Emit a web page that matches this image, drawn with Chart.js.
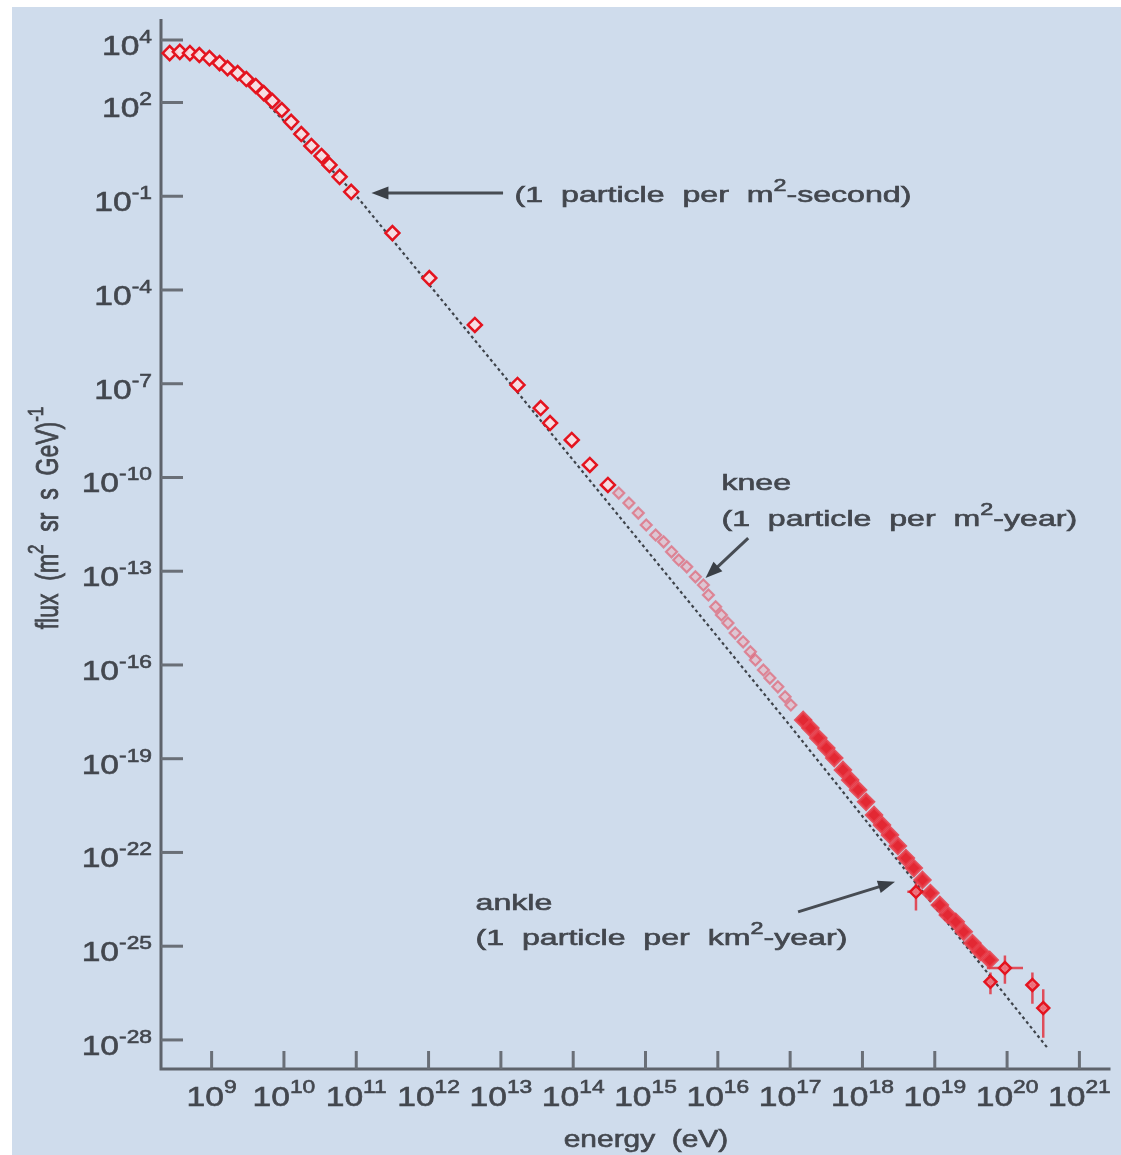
<!DOCTYPE html>
<html>
<head>
<meta charset="utf-8">
<title>Cosmic ray energy spectrum</title>
<script src="https://cdn.jsdelivr.net/npm/chart.js@4.4.0/dist/chart.umd.min.js"></script>
<style>
  html, body { margin: 0; padding: 0; background: #fff; }
  #wrap { width: 1121px; height: 1155px; position: relative; }
</style>
</head>
<body>
<div id="wrap"><canvas id="spectrum"></canvas></div>
<script>
// all values are log10 of the quantity
// energy in eV, flux in (m2 sr s GeV)^-1

// low energy (direct measurements), open diamonds
const lowEnergy = [8.42, 8.56, 8.70, 8.83, 8.97, 9.11, 9.22, 9.36, 9.48, 9.61, 9.72, 9.84, 9.97, 10.10, 10.24, 10.38, 10.52, 10.63, 10.77, 10.93];
const lowFlux   = [3.58, 3.62, 3.58, 3.52, 3.42, 3.26, 3.10, 2.94, 2.75, 2.53, 2.30, 2.05, 1.76, 1.38, 0.99, 0.61, 0.29, 0.00, -0.38, -0.86];

// sparse points between 10^11 and the knee
const midEnergy = [11.50, 12.01, 12.64, 13.23, 13.55, 13.68, 13.98, 14.23, 14.48];
const midFlux   = [-2.18, -3.62, -5.12, -7.04, -7.78, -8.26, -8.80, -9.60, -10.24];

// knee region, faint small markers
const kneeEnergy = [14.63, 14.77, 14.90, 15.01, 15.14, 15.25, 15.36, 15.46, 15.57, 15.69, 15.80, 15.87, 15.97, 16.05, 16.14, 16.24, 16.35, 16.45, 16.52, 16.63, 16.72, 16.83, 16.93, 17.01];
const kneeFlux   = [-10.50, -10.82, -11.14, -11.52, -11.84, -12.06, -12.38, -12.64, -12.86, -13.18, -13.44, -13.76, -14.14, -14.40, -14.66, -14.98, -15.26, -15.58, -15.84, -16.16, -16.42, -16.70, -17.02, -17.28];

// air shower data up to the ankle
const highEnergy = [17.18, 17.28, 17.39, 17.50, 17.61, 17.73, 17.83, 17.94, 18.05, 18.16, 18.27, 18.38, 18.49, 18.60, 18.71, 18.83, 18.94, 19.07, 19.18, 19.29, 19.40, 19.52, 19.63, 19.76];
const highFlux   = [-17.76, -18.02, -18.34, -18.66, -18.98, -19.36, -19.68, -20.00, -20.38, -20.80, -21.12, -21.44, -21.79, -22.18, -22.50, -22.88, -23.30, -23.68, -24.00, -24.22, -24.54, -24.90, -25.18, -25.44];

// highest energy points with error bars (decades)
const tailEnergy  = [18.74, 19.77, 19.97, 20.35, 20.50];
const tailFlux    = [-23.26, -26.14, -25.70, -26.24, -26.98];
const tailErrUp   = [0.35, 0.30, 0.40, 0.40, 0.60];
const tailErrDown = [0.60, 0.40, 0.50, 0.60, 0.95];
const tailErrE    = [0.12, 0.08, 0.25, 0.06, 0.06];

// dotted reference line
const fitEnergy = [9.80, 10.15, 10.97, 14.26, 16.97, 20.56];
const fitFlux   = [1.88, 1.06, -0.90, -10.18, -17.86, -28.26];

// axes
const xTicks = [9, 10, 11, 12, 13, 14, 15, 16, 17, 18, 19, 20, 21];
const yTicks = [4, 2, -1, -4, -7, -10, -13, -16, -19, -22, -25, -28];
const xRange = [8.30, 21.43];
const yRange = [-28.93, 4.80];

const FONT = '"Liberation Sans", Arial, sans-serif';
const INK = '#43474e';
const AXIS = '#5e636b';
const PANEL = '#cfdcec';
const RED = '#e4141f';

function toPoints(es, fs) {
    return es.map((e, i) => ({ x: Math.pow(10, e), y: Math.pow(10, fs[i]) }));
}

// text made of plain and superscript pieces, stretched sideways like the scan
function richText(c, parts, x, y, o) {
    const size = o.size, supSize = o.supSize || Math.round(size * 0.7), rise = o.rise || size * 0.45;
    let w = 0;
    parts.forEach(p => {
        c.font = (p.sup ? supSize : size) + 'px ' + FONT;
        p.w = c.measureText(p.t).width;
        w += p.w;
    });
    let cx = o.align === 'right' ? -w : o.align === 'center' ? -w / 2 : 0;
    c.save();
    c.translate(x, y);
    if (o.rot) c.rotate(o.rot);
    c.scale(o.sx || 1, o.sy || 1);
    c.fillStyle = o.color || INK;
    c.strokeStyle = o.color || INK;
    c.lineWidth = 0.6;
    c.textAlign = 'left';
    c.textBaseline = 'alphabetic';
    parts.forEach(p => {
        c.font = (p.sup ? supSize : size) + 'px ' + FONT;
        c.fillText(p.t, cx, p.sup ? -rise : 0);
        c.strokeText(p.t, cx, p.sup ? -rise : 0);
        cx += p.w;
    });
    c.restore();
}

function arrow(c, x1, y1, x2, y2) {
    const a = Math.atan2(y2 - y1, x2 - x1), L = 17, W = 6.5;
    c.save();
    c.strokeStyle = '#474c53';
    c.fillStyle = '#3a3f46';
    c.lineWidth = 3;
    c.beginPath();
    c.moveTo(x1, y1);
    c.lineTo(x2 - Math.cos(a) * L * 0.8, y2 - Math.sin(a) * L * 0.8);
    c.stroke();
    c.beginPath();
    c.moveTo(x2, y2);
    c.lineTo(x2 - L * Math.cos(a) + W * Math.sin(a), y2 - L * Math.sin(a) - W * Math.cos(a));
    c.lineTo(x2 - L * Math.cos(a) - W * Math.sin(a), y2 - L * Math.sin(a) + W * Math.cos(a));
    c.closePath();
    c.fill();
    c.restore();
}

const frame = {
    id: 'frame',
    beforeDraw(chart) {
        const c = chart.ctx;
        c.save();
        c.fillStyle = '#ffffff';
        c.fillRect(0, 0, chart.width, chart.height);
        c.fillStyle = PANEL;
        c.fillRect(12, 7, chart.width - 12, chart.height - 7);
        c.restore();
    },
    beforeDatasetsDraw(chart) {
        const c = chart.ctx, a = chart.chartArea;
        const xs = chart.scales.x, ys = chart.scales.y;
        c.save();
        // axis lines
        c.strokeStyle = AXIS;
        c.lineWidth = 3;
        c.beginPath();
        c.moveTo(a.left, a.top + 4);
        c.lineTo(a.left, a.bottom);
        c.lineTo(a.right, a.bottom);
        c.stroke();
        // inward ticks
        c.strokeStyle = '#6a6f77';
        yTicks.forEach(t => {
            const y = ys.getPixelForValue(Math.pow(10, t));
            c.beginPath(); c.moveTo(a.left, y); c.lineTo(a.left + 22, y); c.stroke();
        });
        xTicks.forEach(t => {
            const x = xs.getPixelForValue(Math.pow(10, t));
            c.beginPath(); c.moveTo(x, a.bottom); c.lineTo(x, a.bottom - 18); c.stroke();
        });
        c.restore();

        // tick labels
        yTicks.forEach(t => {
            const y = ys.getPixelForValue(Math.pow(10, t));
            richText(c, [{ t: '10' }, { t: String(t), sup: true }], 152, y + 15,
                { size: 28, supSize: 19, rise: 12, sx: 1.2, align: 'right' });
        });
        xTicks.forEach(t => {
            const x = xs.getPixelForValue(Math.pow(10, t));
            richText(c, [{ t: '10' }, { t: String(t), sup: true }], x, a.bottom + 37,
                { size: 28, supSize: 19, rise: 13, sx: 1.2, align: 'center' });
        });

        // axis titles
        richText(c, [{ t: 'energy  (eV)' }], 646, 1147, { size: 23, sx: 1.3, align: 'center' });
        richText(c, [{ t: 'flux  (m' }, { t: '2', sup: true }, { t: '  sr  s  GeV)' }, { t: '-1', sup: true }],
            58, 518, { size: 23, supSize: 17, rise: 11, rot: -Math.PI / 2, sy: 1.35, align: 'center' });

        // error bars under the markers
        c.save();
        c.strokeStyle = 'rgba(228, 30, 42, 0.75)';
        c.lineWidth = 2.5;
        tailEnergy.forEach((e, i) => {
            const f = tailFlux[i];
            const x = xs.getPixelForValue(Math.pow(10, e)), y = ys.getPixelForValue(Math.pow(10, f));
            c.beginPath();
            c.moveTo(x, ys.getPixelForValue(Math.pow(10, f + tailErrUp[i])));
            c.lineTo(x, ys.getPixelForValue(Math.pow(10, f - tailErrDown[i])));
            c.moveTo(xs.getPixelForValue(Math.pow(10, e - tailErrE[i])), y);
            c.lineTo(xs.getPixelForValue(Math.pow(10, e + tailErrE[i])), y);
            c.stroke();
        });
        c.restore();
    },
    afterDraw(chart) {
        const c = chart.ctx, xs = chart.scales.x, ys = chart.scales.y;
        const px = (e, f) => [xs.getPixelForValue(Math.pow(10, e)), ys.getPixelForValue(Math.pow(10, f))];
        const o = { size: 22, sx: 1.46, supSize: 16, rise: 11 };

        let p = px(13.03, -0.896), q = px(11.21, -0.896);
        arrow(c, p[0], p[1], q[0], q[1]);
        p = px(13.19, -1.18);
        richText(c, [{ t: '(1  particle  per  m' }, { t: '2', sup: true }, { t: '-second)' }], p[0], p[1], o);

        p = px(16.05, -10.40);
        richText(c, [{ t: 'knee' }], p[0], p[1], o);
        p = px(16.05, -11.55);
        richText(c, [{ t: '(1  particle  per  m' }, { t: '2', sup: true }, { t: '-year)' }], p[0], p[1], o);
        p = px(16.42, -11.94); q = px(15.83, -13.22);
        arrow(c, p[0], p[1], q[0], q[1]);

        p = px(12.65, -23.84);
        richText(c, [{ t: 'ankle' }], p[0], p[1], o);
        p = px(12.65, -24.96);
        richText(c, [{ t: '(1  particle  per  km' }, { t: '2', sup: true }, { t: '-year)' }], p[0], p[1], o);
        p = px(17.11, -23.90); q = px(18.45, -22.94);
        arrow(c, p[0], p[1], q[0], q[1]);
    }
};

const ctx = document.getElementById('spectrum').getContext('2d');
new Chart(ctx, {
    type: 'scatter',
    data: {
        datasets: [
            {
                label: 'tail',
                data: toPoints(tailEnergy, tailFlux),
                pointStyle: 'rectRot', pointRadius: 6, borderWidth: 2.5,
                borderColor: RED, backgroundColor: 'rgba(240, 120, 130, 0.8)'
            },
            {
                label: 'high',
                data: toPoints(highEnergy, highFlux),
                pointStyle: 'rectRot', pointRadius: 7.5, borderWidth: 3,
                borderColor: 'rgba(232, 60, 72, 0.85)', backgroundColor: 'rgba(228, 20, 31, 0.9)'
            },
            {
                label: 'knee',
                data: toPoints(kneeEnergy, kneeFlux),
                pointStyle: 'rectRot', pointRadius: 5.5, borderWidth: 2.2,
                borderColor: 'rgba(226, 70, 88, 0.55)', backgroundColor: 'rgba(238, 170, 182, 0.45)'
            },
            {
                label: 'mid',
                data: toPoints(midEnergy, midFlux),
                pointStyle: 'rectRot', pointRadius: 7, borderWidth: 2.5,
                borderColor: RED, backgroundColor: 'rgba(250, 222, 226, 0.9)'
            },
            {
                label: 'low',
                data: toPoints(lowEnergy, lowFlux),
                pointStyle: 'rectRot', pointRadius: 7, borderWidth: 2.5,
                borderColor: RED, backgroundColor: 'rgba(250, 222, 226, 0.9)'
            },
            {
                label: 'fit',
                type: 'line',
                data: toPoints(fitEnergy, fitFlux),
                borderColor: '#3e434a', borderWidth: 2.2, borderDash: [3, 3],
                pointRadius: 0, fill: false, tension: 0, order: 10
            }
        ]
    },
    options: {
        responsive: true,
        maintainAspectRatio: false,
        animation: false,
        layout: { padding: { left: 161, top: 15, right: 8, bottom: 86 } },
        plugins: {
            legend: { display: false },
            tooltip: { enabled: false }
        },
        scales: {
            x: { type: 'logarithmic', min: Math.pow(10, xRange[0]), max: Math.pow(10, xRange[1]), display: false },
            y: { type: 'logarithmic', min: Math.pow(10, yRange[0]), max: Math.pow(10, yRange[1]), display: false }
        }
    },
    plugins: [frame]
});
</script>
</body>
</html>
